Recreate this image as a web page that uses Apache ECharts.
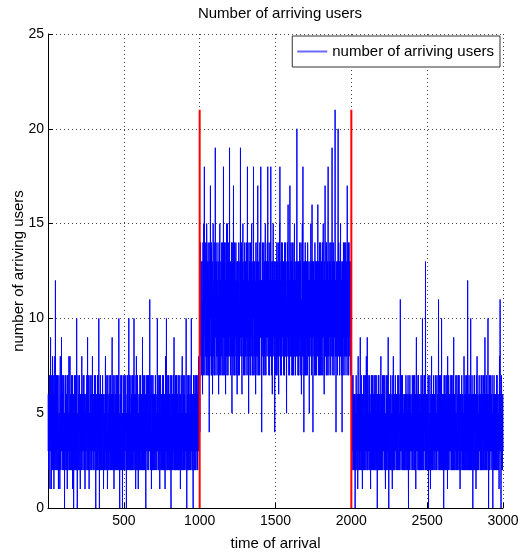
<!DOCTYPE html>
<html>
<head>
<meta charset="utf-8">
<script src="https://cdn.jsdelivr.net/npm/echarts@6/dist/echarts.min.js"></script>
<style>html,body{margin:0;padding:0;background:#fff}#c{width:518px;height:557px}</style>
</head>
<body>
<div id="c"></div>
<script>
// time of arrival runs 1..3000, three phases of 1000 samples
var xStart = 1, xStep = 1;
var usersPhase1 = [
3,6,6,2,2,5,5,3,4,6,7,2,1,5,4,7,9,3,3,6,5,1,2,7,6,3,4,2,3,8,7,3,2,6,5,2,4,7,1,5,6,2,3,6,8,3,4,5,12,3,
2,6,5,3,3,7,6,2,4,5,2,6,7,3,3,5,5,2,1,4,4,7,6,3,2,5,5,1,3,6,8,4,4,2,2,6,6,3,9,4,3,7,5,2,2,6,4,3,7,4,
4,2,3,7,6,3,2,5,0,4,5,2,3,6,7,3,4,6,2,5,5,3,6,2,3,7,1,4,4,6,7,2,2,5,5,3,3,8,6,2,4,5,2,6,8,3,3,6,5,2,
3,5,6,2,4,7,2,5,5,3,7,1,3,6,4,2,2,6,0,4,5,3,3,7,6,2,4,5,2,6,7,3,5,2,3,6,4,2,10,4,2,5,0,3,5,2,3,7,6,4,
4,6,2,5,5,2,3,7,7,3,4,2,1,5,6,3,3,6,5,2,2,6,8,3,4,5,3,6,6,2,2,7,5,3,4,6,7,2,3,5,2,6,5,1,6,3,3,5,4,2,
2,5,6,3,3,7,5,2,4,6,9,3,2,5,4,7,6,2,3,5,1,4,5,3,4,6,7,2,2,6,5,3,3,7,6,2,4,5,2,6,5,3,8,4,3,6,4,2,6,3,
3,6,5,2,2,7,6,3,4,5,3,6,7,2,0,4,4,6,5,3,2,5,6,2,3,7,4,2,7,3,2,6,5,3,10,4,3,6,0,5,4,2,6,3,2,7,5,2,3,6,
5,2,3,6,6,3,2,5,4,7,7,2,3,6,5,1,1,4,4,6,6,3,2,5,5,2,3,7,8,3,4,6,2,5,6,2,3,7,5,3,4,1,2,6,7,3,3,5,5,2,
4,6,2,5,6,3,3,7,5,2,4,6,7,3,2,5,3,6,6,2,4,7,9,3,2,6,5,3,3,7,4,2,6,4,1,5,5,2,3,6,7,2,4,5,2,6,5,3,3,7,
6,2,3,5,4,7,2,6,5,3,7,2,3,6,4,2,10,3,2,5,5,1,0,4,4,6,6,2,3,7,5,3,2,6,7,4,4,2,3,5,0,4,5,2,3,7,6,3,2,5,
4,2,5,3,3,7,6,2,2,5,4,6,7,3,3,5,0,4,5,2,4,6,2,7,6,3,3,5,5,2,4,6,10,3,2,5,3,7,6,2,4,5,5,3,2,6,7,2,3,6,
5,3,2,6,4,7,6,2,3,5,5,2,2,6,7,3,10,4,3,6,4,2,2,5,5,3,6,1,3,7,4,2,8,3,2,6,5,3,3,7,6,2,4,5,1,4,5,2,3,6,
4,2,6,3,2,7,5,3,3,6,7,2,4,5,2,6,6,3,3,5,5,2,9,4,2,6,4,7,6,2,3,5,5,3,2,6,7,3,4,2,3,6,5,2,0,4,4,7,6,3,
3,6,5,2,2,7,6,3,4,5,3,6,7,2,2,5,5,3,4,6,11,4,3,5,6,2,2,7,5,3,4,1,3,6,7,3,2,5,6,2,4,7,5,3,3,6,2,5,6,2,
4,6,3,5,5,2,2,7,7,3,4,2,6,3,3,5,5,2,2,6,10,3,4,6,3,7,6,2,2,5,5,3,4,6,7,2,1,4,5,3,3,7,6,2,4,5,2,6,5,3,
3,5,6,2,4,7,2,5,5,3,7,2,3,6,4,2,6,3,2,5,5,1,3,6,8,3,4,6,2,5,10,3,3,6,5,2,6,3,2,7,4,2,3,5,7,3,5,2,2,6,
4,2,6,3,3,7,5,2,2,4,0,5,4,2,7,3,3,6,5,2,2,5,6,3,4,7,3,5,5,2,9,3,2,6,4,5,6,2,3,7,5,3,2,6,4,2,7,3,3,5,
5,2,3,6,6,3,2,7,4,2,5,3,3,6,7,2,2,5,6,3,4,6,1,5,5,2,3,7,6,2,4,5,2,6,8,3,3,5,5,2,4,7,2,5,6,3,3,6,5,2,
3,7,6,2,2,5,5,3,4,6,10,3,3,5,0,4,5,2,4,6,2,7,6,3,3,5,7,2,4,6,2,5,5,3,3,7,6,2,4,5,2,6,5,3,10,4,3,6,4,2,
5,3,2,6,6,2,0,4,4,7,3,5,7,2,5,3,2,6,4,2,6,3,3,7,5,2,2,5,7,3,4,6,3,5,6,2,2,7,5,3,4,6,8,3,3,5,5,2,4,6
];
var usersPhase2 = [
4,13,12,8,8,14,14,9,10,13,7,12,11,8,9,13,13,7,6,11,10,14,12,7,8,12,15,9,9,13,18,10,11,7,7,12,13,8,10,14,8,12,12,7,9,15,14,8,11,9,
8,12,13,7,10,14,7,11,12,8,9,13,4,10,11,7,14,9,8,12,17,10,10,13,12,8,7,14,11,7,9,12,13,8,6,11,10,13,15,9,8,12,12,7,9,14,11,8,7,13,
13,9,19,10,9,12,11,7,7,13,12,8,10,14,14,9,8,12,11,7,9,13,13,8,6,11,10,14,12,7,8,13,15,9,9,12,11,8,7,13,13,9,10,12,8,14,12,7,14,9,
9,13,11,8,7,12,18,9,10,13,12,7,8,14,13,9,9,12,11,7,6,13,14,8,10,12,8,15,12,7,9,13,15,8,11,10,7,12,13,8,10,14,12,9,8,13,19,10,9,12,
11,8,7,13,13,9,10,12,8,14,12,7,5,11,14,8,9,13,11,7,10,13,17,9,8,12,12,7,9,14,13,8,7,12,11,9,10,13,14,8,8,12,12,7,9,13,6,11,13,9,
10,13,8,12,12,7,9,14,14,9,11,7,7,12,13,8,10,12,19,9,9,13,12,8,8,14,11,7,6,12,13,9,10,13,15,8,9,12,12,7,8,13,11,9,7,12,14,8,10,13,
12,8,9,13,11,7,7,14,13,9,10,12,8,13,18,9,11,7,9,12,12,8,5,11,14,9,10,13,8,12,12,7,9,14,13,8,7,12,11,9,10,13,15,8,8,12,12,7,9,13,
11,8,7,12,18,10,10,13,12,8,8,13,13,7,9,12,11,8,6,12,14,9,10,13,8,12,12,7,9,14,11,8,17,9,10,12,7,13,13,8,9,12,12,7,8,13,14,9,10,12,
9,13,18,9,11,7,8,12,4,9,12,8,10,14,13,9,9,12,11,7,7,13,14,8,10,12,8,13,12,7,9,14,15,9,11,8,7,12,13,9,10,13,12,8,8,14,11,9,18,10,
10,13,8,12,12,7,9,14,13,8,7,12,11,9,10,13,14,8,18,10,9,12,12,7,8,13,11,9,6,12,13,8,10,14,15,9,9,12,12,8,8,13,11,7,4,10,13,9,10,12,
12,7,9,13,11,8,7,12,14,9,10,13,8,12,12,7,9,14,13,8,6,12,11,9,10,13,15,8,18,9,9,12,12,7,8,13,11,9,7,14,13,8,10,12,14,9,9,13,12,8,
8,13,11,7,10,12,13,8,7,14,12,9,9,13,14,8,10,12,8,13,12,7,5,11,11,8,9,14,13,9,10,12,16,8,8,13,12,7,9,12,11,8,7,13,17,9,10,12,13,8,
9,14,12,8,8,13,11,7,10,12,14,9,7,13,13,8,9,12,12,7,10,14,8,12,15,9,11,8,9,13,13,7,7,12,12,9,10,13,8,12,20,10,11,8,9,12,13,7,10,13,
12,7,8,13,11,9,9,12,14,8,10,13,7,12,13,9,9,14,12,8,6,11,11,7,10,13,15,9,8,12,18,10,12,8,9,13,4,10,11,7,13,9,10,12,8,14,12,7,9,13,
11,8,7,12,13,9,10,13,12,7,8,14,14,9,9,12,11,8,10,13,13,7,5,11,12,8,8,13,11,9,9,12,15,8,10,13,7,12,12,8,16,9,9,13,11,7,4,10,13,9,
10,13,12,8,8,12,11,7,9,14,14,8,7,12,13,9,10,13,12,7,8,13,11,9,9,12,13,8,16,10,10,13,7,12,12,8,9,13,11,7,14,9,8,12,12,7,10,14,13,9,
9,13,11,8,7,12,13,9,10,14,12,7,8,13,15,9,9,12,11,8,6,12,13,7,10,13,17,9,8,12,12,8,9,14,11,7,14,9,10,12,7,13,13,8,9,12,18,10,11,8,
12,7,8,13,11,9,10,12,14,8,9,13,12,7,7,14,13,9,10,12,11,8,19,9,8,13,12,7,9,12,14,8,10,13,11,7,7,12,13,9,9,13,21,10,12,8,8,12,4,10,
11,8,13,9,9,12,12,7,8,13,10,14,20,9,11,8,14,9,9,13,12,7,7,12,13,8,10,13,15,9,8,12,11,7,12,8,9,13,4,9,13,8,10,12,12,7,8,14,11,9,
9,12,13,8,10,14,12,7,7,13,11,8,14,9,9,12,12,8,8,13,13,7,17,9,10,12,11,8,9,14,12,7,8,13,14,9,10,12,13,8,9,13,11,7,12,9,10,13,13,8
];
var usersPhase3 = [
3,6,5,2,2,7,6,3,4,5,7,2,3,6,5,3,2,6,4,2,6,3,3,5,0,4,5,2,4,6,2,7,7,3,3,5,5,2,4,6,6,1,2,5,8,3,3,6,5,2,
4,6,2,5,6,3,3,7,9,3,5,2,2,6,4,7,7,2,3,5,5,3,1,4,6,2,4,6,2,7,5,3,3,6,7,2,4,5,2,6,6,3,3,7,5,2,4,6,8,3,
3,6,5,2,9,4,2,6,4,7,6,3,3,5,5,2,2,6,7,3,4,2,3,6,6,2,1,5,5,3,4,7,2,5,6,3,3,6,7,2,5,3,2,6,4,2,6,3,3,7,
5,3,2,6,4,2,7,3,3,5,6,2,4,7,2,5,5,3,3,6,0,4,6,2,4,5,2,7,5,3,7,2,3,6,4,2,2,5,6,3,5,2,3,7,8,4,4,2,2,6,
4,2,6,3,3,7,5,2,2,6,7,3,4,5,3,6,5,2,2,7,6,3,4,2,1,5,5,3,3,6,7,2,4,6,2,5,6,3,3,7,5,2,9,4,4,2,0,5,3,6,
5,2,3,6,6,3,2,5,4,7,7,2,3,5,5,3,2,6,6,1,4,5,3,7,5,2,8,3,2,6,4,2,6,3,3,5,5,2,2,7,7,3,4,6,3,5,6,2,2,6,
4,6,5,2,3,7,6,3,2,5,4,6,7,2,3,5,5,3,2,6,4,3,11,4,3,6,6,2,2,7,5,3,4,6,3,5,7,2,2,6,6,3,4,2,5,3,3,6,2,5,
6,2,3,5,5,3,4,6,2,7,7,3,3,5,6,2,4,6,2,5,5,3,3,7,4,2,0,5,6,3,3,6,5,2,2,7,7,3,4,5,3,6,6,2,2,5,5,3,4,6,
3,7,6,2,2,5,5,3,4,6,7,2,3,5,4,6,2,7,6,3,5,2,3,6,1,4,4,6,9,3,3,5,6,2,2,6,5,3,4,7,3,5,7,2,2,6,5,3,4,2,
6,2,3,5,5,3,2,6,4,7,7,2,3,6,6,3,2,5,10,4,4,2,5,3,3,6,6,2,2,7,4,5,7,3,3,6,5,2,13,4,2,6,4,3,6,2,3,5,5,3,
3,6,5,2,2,7,6,3,0,4,4,6,7,2,3,5,5,3,2,6,6,1,4,5,3,7,5,2,8,3,2,6,4,2,6,3,3,5,5,2,2,6,7,3,4,5,3,6,6,2,
2,6,5,3,4,7,6,2,3,5,5,2,2,6,7,3,4,5,3,6,6,2,2,5,11,3,4,6,5,2,3,7,6,3,2,5,4,2,7,3,3,6,5,2,10,4,3,5,4,2,
6,2,3,5,5,3,2,6,0,4,4,7,6,2,3,5,7,3,2,6,5,2,4,6,3,7,6,2,2,5,5,3,4,1,8,3,3,6,5,2,2,7,6,3,4,5,3,6,5,2,
2,5,6,3,4,7,3,5,5,2,7,3,2,6,4,2,6,3,3,7,5,2,2,6,9,4,4,2,3,6,6,3,2,5,5,3,4,6,7,2,3,5,5,3,2,7,6,3,4,2,
3,6,5,2,2,7,6,3,4,5,7,2,3,6,5,3,1,4,4,6,6,2,2,5,5,3,3,7,7,2,4,6,2,5,6,3,3,5,5,2,4,6,8,3,2,6,5,2,3,7,
6,3,4,6,2,5,5,2,3,7,7,3,4,5,2,6,12,4,3,5,5,2,6,3,2,7,4,2,3,6,6,3,2,5,5,2,10,3,3,6,4,2,6,3,2,7,5,3,3,6,
0,4,5,2,3,6,6,3,2,7,4,5,7,2,3,6,5,3,2,6,6,1,4,5,3,7,5,2,8,3,2,6,4,2,6,3,3,5,5,2,2,6,7,3,4,6,3,5,5,2,
6,3,2,5,4,7,5,2,3,6,7,3,2,5,4,6,6,2,3,7,5,3,2,6,4,2,7,3,3,5,9,4,4,6,2,5,6,3,3,7,5,2,4,6,2,5,6,3,3,6,
10,4,4,6,0,3,5,2,3,7,6,2,2,5,4,6,7,3,3,5,5,2,2,6,6,3,4,7,3,5,5,2,0,4,4,6,6,2,3,5,7,3,2,6,5,3,4,2,3,6,
5,3,2,6,6,2,4,7,3,5,7,2,2,6,5,3,4,6,6,2,3,5,5,1,2,6,8,3,4,5,11,4,3,6,5,2,0,4,4,7,6,3,2,5,5,2,3,6,4,3
];
var changeTimes = [1000, 2000];
var changeLineTop = [21, 21];
var xTicks = [500, 1000, 1500, 2000, 2500, 3000];
var yTicks = [0, 5, 10, 15, 20, 25];

var usersAll = usersPhase1.concat(usersPhase2, usersPhase3);
var blueData = usersAll.map(function (v, i) { return [xStart + xStep * i, v]; });

var FONT = 'Liberation Sans, Arial, Helvetica, sans-serif';
var series = [{
  name: 'number of arriving users',
  type: 'line',
  data: blueData,
  showSymbol: false,
  symbol: 'none',
  sampling: null,
  lineStyle: { color: '#0000ff', width: 1 },
  itemStyle: { color: '#0000ff' },
  animation: false,
  z: 2
}];
changeTimes.forEach(function (t, i) {
  series.push({
    name: 'change' + i,
    type: 'line',
    data: [[t, 0], [t, changeLineTop[i]]],
    showSymbol: false,
    symbol: 'none',
    lineStyle: { color: '#ff0000', width: 2 },
    animation: false,
    z: 3
  });
});

var chart = echarts.init(document.getElementById('c'), null, { renderer: 'canvas' });
chart.setOption({
  backgroundColor: '#fff',
  animation: false,
  title: {
    text: 'Number of arriving users',
    left: 275, textAlign: 'center', top: 1,
    textStyle: { fontFamily: FONT, fontSize: 15, fontWeight: 'normal', color: '#000' }
  },
  legend: {
    data: [{ name: 'number of arriving users', icon: 'rect', itemStyle: { color: '#6a6aff', borderWidth: 0 } }],
    right: 18, top: 36,
    backgroundColor: '#fff',
    borderColor: '#333', borderWidth: 1,
    padding: [8, 6, 8, 5],
    itemWidth: 30, itemHeight: 2, itemGap: 4,
    textStyle: { fontFamily: FONT, fontSize: 15, color: '#000' }
  },
  grid: { left: 48, right: 15, top: 34, bottom: 49, containLabel: false, outerBoundsMode: 'none' },
  xAxis: {
    type: 'value', min: 0, max: 3000, interval: 500,
    name: 'time of arrival', nameLocation: 'middle', nameGap: 28, nameMoveOverlap: false,
    nameTextStyle: { fontFamily: FONT, fontSize: 15, color: '#000' },
    axisLine: { show: true, onZero: false, lineStyle: { color: '#000', width: 1 } },
    axisTick: { show: true, inside: true, length: 5, lineStyle: { color: '#000' } },
    axisLabel: {
      fontFamily: FONT, fontSize: 14, color: '#000', margin: 6,
      formatter: function (v) { return xTicks.indexOf(v) >= 0 ? String(v) : ''; }
    },
    splitLine: { show: true, lineStyle: { color: '#444', width: 1, type: [1, 3] } }
  },
  yAxis: {
    type: 'value', min: 0, max: 25, interval: 5,
    name: 'number of arriving users', nameLocation: 'middle', nameGap: 22, nameMoveOverlap: false,
    nameTextStyle: { fontFamily: FONT, fontSize: 15, color: '#000' },
    axisLine: { show: true, onZero: false, lineStyle: { color: '#000', width: 1 } },
    axisTick: { show: true, inside: true, length: 5, lineStyle: { color: '#000' } },
    axisLabel: {
      fontFamily: FONT, fontSize: 14, color: '#000', margin: 4,
      formatter: function (v) { return yTicks.indexOf(v) >= 0 ? String(v) : ''; }
    },
    splitLine: { show: true, lineStyle: { color: '#444', width: 1, type: [1, 3] } }
  },
  series: series
});
</script>
</body>
</html>
